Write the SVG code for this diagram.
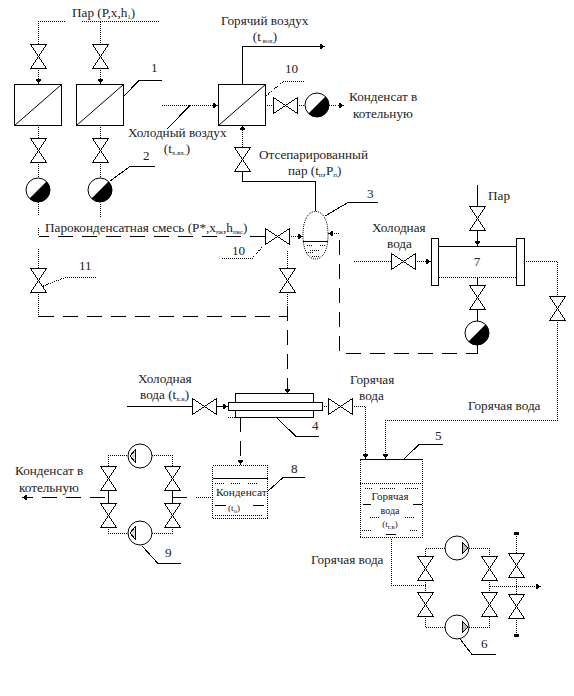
<svg xmlns="http://www.w3.org/2000/svg" xmlns:xlink="http://www.w3.org/1999/xlink" width="574" height="696" viewBox="0 0 574 696">
<style>
text{font-family:"Liberation Serif","Times New Roman",serif;font-size:13.2px;fill:#222}
.m{text-anchor:middle}
.s{font-size:7px}
path,line,rect,circle,polygon{shape-rendering:crispEdges}
.l{fill:none;stroke:#000;stroke-width:1}
.o{fill:none;stroke:#000;stroke-width:1;stroke-dasharray:1 1}
.da{fill:none;stroke:#000;stroke-width:1;stroke-dasharray:15 9}
.b{fill:#fff;stroke:#000;stroke-width:1}
.v{fill:#fff;stroke:#000;stroke-width:1}
.c{shape-rendering:auto}
.t{fill:#fff;stroke:#000;stroke-dasharray:1 1}
</style>
<defs>
<g id="vv"><path class="v" d="M-8-12H8L-8 12H8Z"/></g>
<g id="vh"><path class="v" d="M-12-8V8L12-8V8Z"/></g>
<g id="tr"><circle class="b c" r="12"/><path class="c" d="M-8.500 8.500A12 12 0 0 0 8.500-8.500Z" fill="#000"/></g>
<g id="pl"><circle class="b c" r="12"/><path d="M-10 0L-5-6V6Z" fill="#ddd" stroke="#000"/></g>
<g id="pr"><circle class="b c" r="12"/><path d="M11 0L5-6V6Z" fill="#bbb" stroke="#000"/></g>
<marker id="a" markerWidth="6" markerHeight="6" refX="5" refY="3" orient="auto" markerUnits="userSpaceOnUse"><path d="M0 0L5 3L0 6Z" fill="#000"/></marker>
</defs>
<g id="connectors">
<path class="o" d="M38.500 44V21.500H66M82 21.500H159M100.500 21.500V44"/>
<path class="o" d="M38.500 68V84" marker-end="url(#a)"/>
<path class="o" d="M100.500 68V84" marker-end="url(#a)"/>
<path class="o" d="M38.500 125V138M38.500 162V178M100.500 125V138M100.500 162V178M38.500 202V215M100.500 204V218"/>
<path class="da" d="M265 236.500H38.500"/>
<path class="o" d="M38.500 228V236M38.500 249V268M38.500 292V306"/>
<path class="da" d="M38.500 316.500H288"/>
<path class="o" d="M38.500 316.500V306M287.500 251V268M287.500 292V306"/>
<path class="da" d="M287.500 306V394" marker-end="url(#a)"/>
<path class="o" d="M289 236.500H303" marker-end="url(#a)"/>
<path class="l" d="M242.500 84V46.500H325" marker-end="url(#a)"/>
<path class="o" d="M265 105.500H273M297 105.500H305M329 105.500H336"/>
<path class="l" d="M338 105.500H344" marker-end="url(#a)"/>
<path class="o" d="M162 105.500H218" marker-end="url(#a)"/>
<path class="o" d="M242.500 147V125" marker-end="url(#a)"/>
<path class="l" d="M242.500 171V181.500H315.500V211"/>
<path class="o" d="M339 233.500H328" marker-end="url(#a)"/>
<path class="da" d="M339.500 240V353.500H477"/>
<path class="l" d="M477.500 185V207M477.500 277V285M477.500 309V321M477.500 345V354"/>
<path class="l" d="M477.500 230V246" marker-end="url(#a)"/>
<path class="o" d="M354 261.500H391"/>
<path class="o" d="M415 261.500H431" marker-end="url(#a)"/>
<path class="o" d="M524 261.500H557.500V296M557.500 320V420.500H385.500V459" marker-end="url(#a)"/>
<path class="l" d="M127 406.500H192"/>
<path class="l" d="M216 406.500H228" marker-end="url(#a)"/>
<path class="o" d="M322 406.500H329"/>
<path class="o" d="M352 406.500H365.500V459" marker-end="url(#a)"/>
<path class="da" d="M240.500 417V465" marker-end="url(#a)"/>
<path class="o" d="M196 497.500H212"/>
<path class="l" d="M172.500 497.500H187M172.500 491V503"/>
<path class="o" d="M108.500 466V455.500H128M152 455.500H172.500V466M108.500 527V533.500H128M152 533.500H172.500V527"/>
<path class="l" d="M108.500 491V503"/>
<path class="da" d="M105 497.500H22" marker-end="url(#a)"/>
<path class="o" d="M391.500 537V585.500H425.500M425.500 580V592"/>
<path class="o" d="M425.500 556V548.500H445M469 548.500H489.500V556M425.500 616V627.500H445M469 627.500H489.500V616M489.500 580V592"/>
<path class="o" d="M489.500 586.500H541" marker-end="url(#a)"/>
<path class="o" d="M516.500 577V595M516.500 553V534M516.500 618V635"/>
<path d="M514 533H519M514 635H519" stroke="#000" stroke-width="3"/>
<path class="o" d="M265 97L283 81.500H305M41 287L65 277.500H97M252 258.500L264 245M222 258.500H252"/>
<path class="l" d="M123 97L139 80.500H162M110 181L130 166.500H155M190 105.500L167 129M325 216L348 202.500H378M277 418L296 436.500H319M267 492L283 477.500H305M142 546L158 563.500H181M404 459L419 444.500H443M460 639L472 654.500H496"/>
</g>
<g id="n-h1"><rect class="b" x="14.500" y="84.500" width="47" height="41"/><path class="l c" d="M14.500 125.500L61.500 84.500" stroke-width=".8"/></g>
<g id="n-h2"><rect class="b" x="76.500" y="84.500" width="47" height="41"/><path class="l c" d="M76.500 125.500L123.500 84.500"/></g>
<g id="n-h3"><rect class="b" x="218.500" y="84.500" width="47" height="41"/><path class="l c" d="M218.500 125.500L265.500 84.500"/></g>
<g id="valves">
<use href="#vv" x="38.500" y="56.500"/><use href="#vv" x="100.500" y="56.500"/>
<use href="#vv" x="38.500" y="150.500"/><use href="#vv" x="100.500" y="150.500"/>
<use href="#vv" x="242.500" y="159.500"/>
<use href="#vh" x="285.500" y="105.500"/>
<use href="#vh" x="277.500" y="236.500"/>
<use href="#vv" x="38.500" y="280.500"/><use href="#vv" x="287.500" y="280.500"/>
<use href="#vv" x="477.500" y="218.500"/><use href="#vv" x="477.500" y="297.500"/>
<use href="#vh" x="403.500" y="261.500"/>
<use href="#vv" x="557.500" y="308.500"/>
<use href="#vh" x="204.500" y="406.500"/><use href="#vh" x="340.500" y="406.500"/>
<use href="#vv" x="108.500" y="478.500"/><use href="#vv" x="172.500" y="478.500"/>
<use href="#vv" x="108.500" y="515.500"/><use href="#vv" x="172.500" y="515.500"/>
<use href="#vv" x="425.500" y="568.500"/><use href="#vv" x="489.500" y="568.500"/>
<use href="#vv" x="425.500" y="604.500"/><use href="#vv" x="489.500" y="604.500"/>
<use href="#vv" x="516.500" y="565.500"/><use href="#vv" x="516.500" y="606.500"/>
</g>
<g id="traps">
<use href="#tr" x="38" y="190"/><use href="#tr" x="100" y="190"/><use href="#tr" x="317" y="105"/><use href="#tr" x="477" y="333"/>
</g>
<g id="n-sep"><path class="t c" d="M303 235C303 218 309 211.500 315.500 211.500C322 211.500 328 218 328 235C328 252 322 259 315.500 259C309 259 303 252 303 235Z"/><path class="l" d="M303 241.500H328"/><path class="o" d="M307 245H312M320 245H326M310 250H319M306 252H313M312 256H320"/></g>
<g id="n-7"><rect class="b" x="431.500" y="238.500" width="7" height="47"/><rect class="b" x="516.500" y="238.500" width="8" height="47"/><path class="l" d="M438.500 246.500H516.500"/><path class="o" d="M438.500 277.500H516.500"/><text class="m" x="477" y="266">7</text></g>
<g id="n-4"><path class="l" d="M235.500 402V393.500H313.500V402M235.500 411V417.500H313.500V411"/><rect x="228" y="402.500" width="94" height="8" fill="#fff" stroke="#000" stroke-width="1"/><path class="o" d="M228 417.500H236M228 402H322"/></g>
<g id="n-8"><rect class="t" x="212.500" y="465.500" width="55" height="53"/><path class="l" d="M212.500 478.500H267.500"/><path class="o" d="M215 483H225M231 483H241M248 483H258M215 515.500H263"/><path class="l" d="M215 505.500H226M253 505.500H264"/><text x="216" y="496" style="font-size:11.400px">Конденсат</text><text x="228" y="511" style="font-size:9px">(t<tspan class="s" dy="2">о</tspan><tspan dy="-2">)</tspan></text></g>
<g id="n-5"><rect class="t" x="360" y="459.500" width="62.500" height="78"/><path class="l" d="M360 459.500H422"/><path class="o" d="M360 483.500H422M365 488H372M380 488H395M405 488H418M370 517H380M405 517H415M362 530H372M410 530H418"/><path class="l" d="M363 504.500H371M413 504.500H422M386 534.500H396"/><text class="m" x="390" y="500" style="font-size:11px">Горячая</text><text class="m" x="390" y="514" style="font-size:10px">вода</text><text class="m" x="390" y="527" style="font-size:9px">(t<tspan class="s" dy="2">г.в</tspan><tspan dy="-2">)</tspan></text></g>
<g id="pumps"><use href="#pl" x="140" y="456"/><use href="#pl" x="140" y="533"/><use href="#pr" x="457" y="548"/><use href="#pr" x="457" y="627"/></g>
<g id="labels">
<text x="72" y="17">Пар (P,x,h<tspan class="s" dy="2">1</tspan><tspan dy="-2">)</tspan></text>
<text x="221" y="25">Горячий воздух</text>
<text class="m" x="265" y="41">(t<tspan class="s" dy="2"> вох</tspan><tspan dy="-2">)</tspan></text>
<text x="151" y="72">1</text><text x="285" y="73">10</text><text x="143" y="160">2</text>
<text x="349" y="101">Конденсат в</text><text x="353" y="118">котельную</text>
<text x="128" y="137">Холодный воздух</text>
<text class="m" x="177" y="153">(t<tspan class="s" dy="2">х.вх.</tspan><tspan dy="-2">)</tspan></text>
<text x="259" y="159">Отсепарированный</text>
<text x="288" y="175">пар (t<tspan class="s" dy="2">п</tspan><tspan dy="-2">,P</tspan><tspan class="s" dy="2">п</tspan><tspan dy="-2">)</tspan></text>
<text x="367" y="198">3</text>
<text x="45" y="232">Пароконденсатная смесь (P*,x<tspan class="s" dy="2">пк</tspan><tspan dy="-2">,h</tspan><tspan class="s" dy="2">пкс</tspan><tspan dy="-2">)</tspan></text>
<text x="232" y="255">10</text><text x="79" y="270">11</text>
<text x="488" y="200">Пар</text>
<text x="372" y="232">Холодная</text><text x="387" y="248">вода</text>
<text x="468" y="410">Горячая вода</text>
<text x="350" y="384">Горячая</text><text x="359" y="400">вода</text>
<text x="138" y="383">Холодная</text>
<text x="140" y="399">вода (t<tspan class="s" dy="2">х.в</tspan><tspan dy="-2">)</tspan></text>
<text x="312" y="430">4</text><text x="435" y="440">5</text><text x="291" y="473">8</text><text x="165" y="557">9</text><text x="481" y="648">6</text>
<text x="15" y="475">Конденсат в</text><text x="19" y="492">котельную</text>
<text x="311" y="564">Горячая вода</text>
</g>
</svg>
